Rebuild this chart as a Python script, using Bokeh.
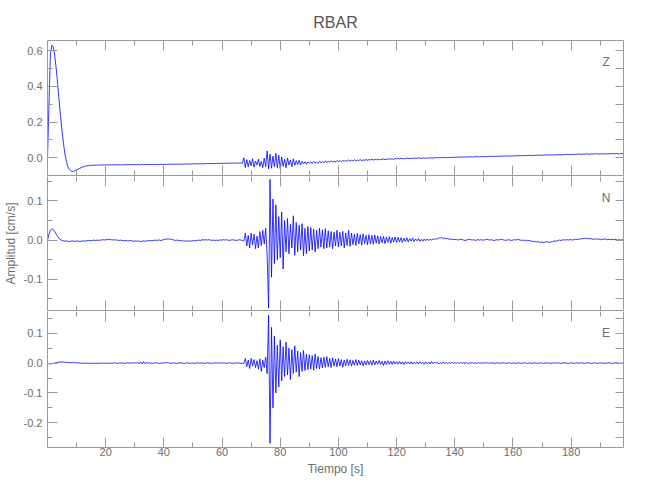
import numpy as np
from bokeh.plotting import figure
from bokeh.models import (Range1d, LinearAxis, FixedTicker, SingleIntervalTicker,
                          PrintfTickFormatter, Label, ColumnDataSource)
from bokeh.layouts import column
from bokeh.embed import file_html
from bokeh.resources import INLINE

# ---------------- data (velocity in units of 0.001 cm/s, one sample every 0.5 s) -------------
station = "RBAR"
t_start = 0.0
dt = 0.5
x_label = "Tiempo [s]"
y_label = "Amplitud [cm/s]"
components = ["Z", "N", "E"]

z_milli = [
    0, 300, 580, 630, 620, 570, 500, 410, 320, 230, 150, 80, 20, -20, -50, -65, -73, -76, -75, -72,
    -68, -64, -60, -56, -52, -49, -47, -45, -44, -43, -42, -42, -41, -41, -41, -40, -40, -40, -40, -40,
    -40, -40, -39, -40, -40, -39, -40, -40, -39, -39, -39, -40, -39, -39, -38, -39, -39, -38, -39, -38,
    -38, -39, -38, -37, -40, -35, -39, -36, -38, -37, -38, -37, -38, -37, -37, -38, -37, -37, -36, -37,
    -37, -36, -37, -36, -36, -37, -36, -36, -35, -36, -36, -35, -35, -36, -35, -35, -34, -35, -35, -34,
    -34, -34, -33, -34, -34, -33, -33, -34, -33, -33, -32, -33, -32, -32, -33, -32, -32, -31, -32, -31,
    -31, -31, -31, -30, -31, -30, -30, -30, -29, -30, -30, -29, -30, -29, -30, 0, -55, -10, -50, -15,
    -45, -5, -52, -18, -40, -8, -48, -20, -55, -2, -50, 38, -62, 20, -58, 10, -50, 25, -55, 15,
    -60, 5, -48, -8, -55, -2, -40, -12, -50, -6, -42, -16, -38, -14, -40, -20, -34, -22, -36, -24,
    -30, -22, -32, -20, -29, -24, -31, -19, -27, -22, -28, -17, -26, -20, -25, -16, -23, -19, -24, -15,
    -21, -16, -22, -14, -19, -15, -20, -12, -18, -14, -17, -11, -18, -13, -15, -10, -16, -12, -14, -9,
    -14, -10, -12, -8, -13, -9, -11, -7, -12, -8, -10, -6, -11, -7, -9, -5, -8, -6, -9, -4,
    -6, -3, -7, -2, -5, -4, -6, -1, -4, -3, -5, -1, -3, -2, -4, 0, -2, -3, -1, -2,
    -2, 0, -3, 1, -1, -2, 0, 2, -1, 1, 0, 2, 1, 3, 0, 2, 1, 3, 2, 4,
    2, 4, 3, 5, 3, 4, 5, 3, 6, 4, 5, 6, 4, 6, 5, 7, 6, 5, 7, 6,
    7, 8, 6, 8, 7, 9, 8, 7, 9, 8, 9, 10, 8, 10, 9, 11, 10, 9, 11, 10,
    11, 10, 12, 11, 12, 13, 12, 11, 13, 12, 13, 14, 13, 12, 14, 13, 14, 15, 14, 15,
    15, 14, 16, 15, 16, 17, 16, 15, 17, 16, 17, 18, 17, 16, 18, 17, 18, 19, 18, 19,
    19, 18, 20, 19, 20, 21, 20, 19, 21, 20, 21, 22, 21, 20, 22, 21, 22, 23, 22, 21,
    22, 23, 22, 21, 23, 22, 23, 22, 24, 23, 22, 24, 23, 22, 23, 24, 23,
]

n_milli = [
    0, 15, 25, 29, 27, 22, 15, 9, 4, 1, -1, -2, -3, -2, -3, -4, -3, -2, -3, -3,
    -3, -2, -4, -3, -2, -3, -2, -2, -1, -2, -1, -1, 0, -1, 0, -1, 0, 0, 1, 0,
    1, 1, 2, 1, 1, 0, 1, 0, 0, -1, 0, -1, -1, -2, -1, -2, -2, -1, -2, -3,
    -2, -3, -2, -3, -4, -3, -2, -3, -2, -2, -1, -2, -1, -1, 0, -1, 0, 0, -1, 0,
    1, 2, 3, 2, 3, 2, 1, 0, -1, 0, -1, -2, -1, -2, -3, -2, -3, -2, -3, -2,
    -2, -1, -2, -1, 0, -1, 0, 1, 0, 1, 0, 1, 0, -1, 0, -1, 0, -1, 0, 0,
    0, 1, 0, 1, 0, -1, 0, 1, 0, 0, -1, 0, 1, 0, -1, -2, 18, -15, 12, -20,
    18, -12, 15, -22, 10, -20, 22, -14, 25, -10, 30, -38, -174, 155, -95, 105, -60, 90, -50, 60,
    -45, 72, -74, 50, -30, 55, -35, 40, -20, 62, -39, 45, -30, 38, -25, 42, -40, 30, -35, 35,
    -28, 32, -25, 28, -30, 25, -22, 30, -18, 26, -22, 29, -20, 24, -18, 22, -22, 20, -15, 25,
    -18, 20, -15, 22, -20, 18, -14, 25, -16, 18, -12, 15, -14, 17, -10, 14, -13, 16, -9, 12,
    -12, 14, -10, 12, -11, 13, -8, 11, -10, 9, -7, 10, -9, 8, -6, 9, -8, 7, -5, 8,
    -6, 7, -5, 6, -6, 5, -4, 6, -5, 4, -3, 5, -4, 3, -2, 4, -3, 2, -3, 3,
    -2, 3, -1, 2, 0, 3, 1, 4, 2, 6, 5, 7, 4, 5, 3, 4, 2, 3, 1, 2,
    1, 2, 0, 1, 2, 1, 0, -1, 0, 1, 2, 1, 0, 1, -1, 0, 1, 0, 1, 0,
    0, 1, 2, 1, 0, 1, 0, -1, 0, 1, 0, 1, 2, 1, 0, -1, 0, 1, 0, -1,
    0, 1, 0, 2, 1, 0, -1, 0, -1, 0, -2, -1, -2, -3, -4, -3, -5, -4, -5, -6,
    -5, -6, -5, -4, -5, -6, -5, -4, -3, -2, -3, -1, 0, -1, 0, 1, 0, 1, 0, 1,
    1, 0, 1, 2, 1, 3, 2, 4, 3, 5, 4, 5, 3, 4, 3, 2, 3, 2, 3, 2,
    2, 1, 2, 3, 2, 1, 2, 1, 2, 1, 2, 1, 0, 1, 0, 1, 0,
]

e_milli = [
    0, -2, -3, -2, -1, 0, 1, 2, 3, 4, 3, 4, 3, 2, 3, 2, 1, 2, 1, 2,
    1, 0, 1, 0, -1, 0, -1, 0, -1, -1, 0, -1, 0, -1, -1, 0, -1, 0, 0, -1,
    0, -1, 0, 0, -1, 0, 1, 0, -1, 0, 0, 1, 0, -1, 0, 1, 0, 0, 1, 0,
    1, 0, 2, -2, 4, -3, 5, -2, 2, 0, 1, 0, -1, 0, 1, 0, 0, -1, 0, 1,
    0, 1, 2, 1, 0, -1, 0, 1, 0, -1, 0, 1, 0, 0, -1, 0, 1, 0, -1, 0,
    0, -1, 0, 1, 0, 0, 1, 0, -1, 0, 1, 0, 0, -1, 0, 1, 0, 0, 1, 0,
    0, 1, 0, -1, 0, 1, 0, 0, -1, 0, 1, 0, 0, -1, 0, -1, 15, -12, 10, -18,
    16, -10, 12, -15, 8, -20, 14, -28, 10, -15, 20, -35, 160, -269, 120, -150, 90, -100, 60, -80,
    78, -60, 55, -45, 70, -40, 50, -55, 45, -35, 58, -30, 40, -45, 35, -28, 42, -25, 30, -22,
    28, -20, 25, -24, 30, -18, 22, -20, 18, -16, 20, -14, 22, -12, 16, -15, 18, -10, 14, -12,
    15, -10, 12, -14, 10, -9, 13, -8, 11, -10, 9, -7, 12, -8, 10, -6, 8, -9, 7, -6,
    9, -5, 8, -7, 10, -6, 7, -4, 9, -5, 6, -8, 7, -5, 8, -4, 6, -5, 7, -3,
    5, -4, 6, -3, 4, -5, 5, -2, 4, -3, 5, -4, 3, -2, 4, -3, 5, -2, 3, -4,
    4, -2, 3, -3, 5, -2, 4, -1, 3, -3, 2, -2, 4, -1, 3, -2, 2, -1, 3, -2,
    2, -1, 3, -2, 2, 0, 1, -1, 2, -2, 1, 0, 2, -1, 1, -1, 2, 0, 1, -1,
    1, 0, 2, -1, 1, 0, 1, -1, 0, 1, 0, -1, 1, 0, 1, -1, 0, 1, 0, -1,
    0, 1, -1, 0, 1, 0, -1, 0, 1, 0, -1, 0, 1, -1, 0, 1, 0, -1, 0, 1,
    0, -1, 0, 1, 0, 0, -1, 0, 1, 0, 0, 1, 0, -1, 0, 1, 0, 0, -1, 0,
    1, 0, -1, 0, 1, 0, 0, 1, 0, -1, 0, 1, 0, 0, -1, 0, 1, 0, -1, 0,
    0, 1, 0, -1, 0, 0, 1, 0, -1, 0, 0, 1, 0, 0, -1, 0, 0,
]

x_major_ticks = [20, 40, 60, 80, 100, 120, 140, 160, 180]
x_minor_ticks = [10, 30, 50, 70, 90, 110, 130, 150, 170, 190]

# ---------------- styling ----------------
FONT = "Liberation Sans"
AX = "#9a9a9a"
TXT = "#6e6e6e"

panels = [
    # values, y range, major step, label y (data), frame height
    (z_milli, (-0.099, 0.656), 0.2, 0.533, 135),
    (n_milli, (-0.180, 0.1625), 0.1, 0.108, 134),
    (e_milli, (-0.283, 0.173), 0.1, 0.101, 136),
]


def style_axis(ax, labels):
    ax.axis_line_color = AX
    ax.major_tick_line_color = AX
    ax.minor_tick_line_color = AX
    ax.major_tick_in = 10
    ax.major_tick_out = 0
    ax.minor_tick_in = 5
    ax.minor_tick_out = 0
    ax.major_label_text_font = FONT
    ax.axis_label_text_font = FONT
    ax.axis_label_text_color = TXT
    ax.axis_label_text_font_style = "normal"
    if labels:
        ax.major_label_text_color = TXT
        ax.major_label_text_font_size = "11px"
        ax.major_label_standoff = 5
    else:
        ax.major_label_text_color = None
        ax.major_label_text_font_size = "1px"
        ax.major_label_standoff = 0


figs = []
for i, (vals, yr, step, ly, fh) in enumerate(panels):
    first = i == 0
    last = i == len(panels) - 1
    v = np.array(vals, dtype=float) / 1000.0
    t = t_start + dt * np.arange(len(v))
    src = ColumnDataSource(dict(t=t, v=v))

    p = figure(frame_width=576, frame_height=fh, output_backend="svg",
               toolbar_location=None,
               x_range=Range1d(0, 198), y_range=Range1d(*yr),
               min_border_left=40, min_border_right=20,
               min_border_top=40 if first else 0,
               min_border_bottom=30 if last else 1,
               background_fill_color="white", border_fill_color="white")
    p.outline_line_color = None
    p.grid.visible = False

    if first:
        p.title.text = station
        p.title.align = "center"
        p.title.text_font = FONT
        p.title.text_font_size = "16px"
        p.title.text_font_style = "normal"
        p.title.text_color = "#555555"
        p.title.standoff = 20

    # bottom axis
    xb = p.xaxis[0]
    xb.ticker = FixedTicker(ticks=x_major_ticks, minor_ticks=x_minor_ticks)
    style_axis(xb, last)
    if last:
        xb.major_label_standoff = 0
        xb.axis_label = x_label
        xb.axis_label_text_font_size = "12px"
        xb.axis_label_standoff = 3
    # top axis
    xa = LinearAxis(ticker=FixedTicker(ticks=x_major_ticks, minor_ticks=x_minor_ticks))
    style_axis(xa, False)
    if not first:
        xa.axis_line_color = None
    p.add_layout(xa, "above")

    # left axis
    yl = p.yaxis[0]
    yl.ticker = SingleIntervalTicker(interval=step, num_minor_ticks=2)
    yl.formatter = PrintfTickFormatter(format="%.1f")
    style_axis(yl, True)
    if i == 1:
        yl.axis_label = y_label
        yl.axis_label_text_font_size = "12px"
        yl.axis_label_standoff = 3
    # right axis
    yr_ax = LinearAxis(ticker=SingleIntervalTicker(interval=step / 2, num_minor_ticks=0))
    style_axis(yr_ax, False)
    yr_ax.major_tick_in = 8
    p.add_layout(yr_ax, "right")

    p.line("t", "v", source=src, line_color="blue", line_width=0.8)

    p.add_layout(Label(x=192, y=ly, text=components[i], text_align="center",
                       text_baseline="middle", text_font=FONT, text_font_size="12px",
                       text_color=TXT))
    figs.append(p)

layout = column(*figs, spacing=0)
open("out.html", "w").write(file_html(layout, INLINE))
